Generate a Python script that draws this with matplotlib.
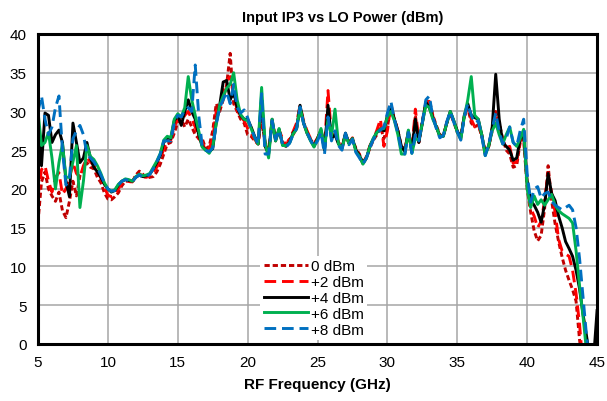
import matplotlib
matplotlib.use('Agg')
import matplotlib.pyplot as plt
import numpy as np

plt.rcParams['font.family'] = ['Liberation Sans', 'DejaVu Sans']

# RF frequency grid (GHz), 0.25 GHz steps from 5 to 45
freq = np.linspace(5, 45, 161)

# Input IP3 (dBm) at each LO drive level, one row per GHz
iip3_0dbm = [
    15.7, 20.9, 22.2, 20.0,  19.1, 18.4, 19.6, 17.2,  16.3, 18.4, 21.0, 19.1,
    21.7, 22.5, 23.4, 22.8,  22.6, 21.5, 20.8, 19.5,  18.7, 18.6, 19.0, 19.5,
    20.4, 21.0, 21.0, 20.8,  21.8, 22.3, 21.9, 21.4,  21.5, 21.6, 22.2, 23.2,
    24.5, 25.8, 26.0, 27.2,  28.6, 29.0, 28.0, 29.0,  28.0, 27.0, 26.5, 26.5,
    25.2, 25.5, 27.5, 31.0,  30.0, 31.5, 33.5, 37.5,  31.0, 30.0, 29.0, 28.5,
    27.0, 26.8, 26.2, 25.8,  29.0, 26.0, 25.0, 28.5,  26.5, 27.5, 26.0, 25.8,
    26.4, 27.0, 27.8, 30.3,  28.6, 27.4, 26.4, 25.8,  26.5, 27.4, 25.2, 30.0,
    27.0, 27.5, 26.0, 25.4,  27.0, 26.0, 26.4, 25.2,  24.5, 23.2, 24.0, 25.3,
    26.3, 27.0, 28.0, 26.5,  28.0, 30.5, 29.0, 27.5,  25.5, 25.2, 27.2, 25.0,
    29.5, 26.0, 28.8, 31.0,  31.5, 29.5, 28.2, 27.0,  26.8, 28.5, 29.8, 28.6,
    27.3, 26.8, 29.3, 30.5,  28.5, 28.0, 28.3, 26.8,  24.8, 25.5, 27.5, 30.0,
    28.5, 26.5, 25.0, 24.5,  22.8, 23.0, 26.0, 26.5,  20.0, 17.0, 14.6, 13.3,
    14.0, 17.5, 23.0, 18.5,  15.5, 13.2, 11.2, 9.5,   8.2, 7.0, 5.5, 0.5,
    -3, -3, -3, -3,  -3,
]
iip3_2dbm = [
    19.0, 22.5, 23.0, 21.0,  19.6, 21.5, 22.1, 19.3,  20.0, 21.3, 23.4, 22.0,
    21.5, 23.0, 24.0, 23.5,  23.0, 22.2, 21.4, 20.2,  19.2, 19.0, 19.3, 20.0,
    20.8, 21.2, 21.0, 20.9,  21.8, 22.0, 21.6, 21.5,  21.7, 22.2, 22.8, 23.8,
    25.2, 26.2, 26.3, 28.0,  29.0, 28.6, 29.5, 30.0,  29.0, 28.0, 26.5, 26.0,
    25.0, 25.2, 26.5, 30.0,  30.5, 32.5, 34.0, 34.5,  32.0, 30.2, 29.3, 28.8,
    27.8, 27.2, 26.4, 25.8,  30.0, 25.8, 24.8, 28.8,  26.5, 27.6, 26.5, 25.6,
    26.5, 27.4, 28.5, 30.8,  28.8, 27.5, 26.5, 25.8,  26.6, 27.5, 25.5, 32.7,
    26.8, 27.3, 26.0, 25.3,  27.0, 25.9, 26.6, 25.0,  24.4, 23.3, 24.2, 25.6,
    26.4, 27.6, 29.0, 25.5,  27.5, 31.0, 29.0, 27.5,  25.3, 25.0, 27.4, 25.0,
    30.3, 26.2, 28.6, 31.0,  31.3, 29.4, 28.0, 26.9,  26.8, 28.6, 29.8, 28.7,
    27.4, 26.6, 29.4, 30.5,  29.0, 28.0, 28.3, 27.0,  24.5, 25.5, 27.8, 29.5,
    28.2, 26.3, 25.3, 25.5,  23.3, 23.5, 26.2, 26.5,  20.5, 17.5, 16.5, 15.0,
    15.8, 18.5, 22.0, 19.5,  17.0, 13.5, 12.0, 11.6,  11.3, 9.5, 6.5, 2.5,
    -3, -3, -3, -3,  -3,
]
iip3_4dbm = [
    28.0, 23.0, 29.8, 29.5,  26.0, 27.0, 27.6, 26.0,  21.0, 19.0, 28.5, 26.0,
    23.4, 24.0, 26.0, 24.0,  22.8, 22.2, 21.5, 20.6,  20.0, 19.6, 19.8, 20.5,
    21.0, 21.2, 21.1, 21.0,  21.5, 21.8, 21.6, 21.7,  21.9, 22.6, 23.4, 24.3,
    26.0, 26.6, 26.5, 28.8,  29.5, 28.2, 30.0, 31.5,  30.0, 29.0, 27.0, 25.5,
    25.0, 24.8, 25.2, 28.5,  30.8, 33.8, 34.0, 31.5,  32.5, 30.5, 29.5, 29.0,
    29.0, 28.0, 26.8, 25.8,  31.5, 25.5, 24.5, 29.0,  26.2, 27.7, 25.7, 25.5,
    26.0, 27.2, 27.8, 30.8,  28.5, 27.2, 26.3, 25.5,  26.5, 27.6, 25.0, 30.8,
    26.5, 27.0, 25.8, 25.3,  27.2, 25.9, 26.5, 25.0,  24.3, 23.4, 24.0, 25.5,
    26.5, 27.3, 27.7, 27.5,  29.5, 30.5, 29.0, 27.5,  25.5, 24.8, 27.5, 24.8,
    29.0, 26.0, 28.5, 31.2,  30.5, 29.2, 28.0, 26.8,  26.8, 28.5, 30.0, 28.8,
    27.5, 26.5, 29.5, 31.0,  29.5, 29.2, 29.0, 27.0,  24.6, 25.5, 28.0, 34.8,
    29.0, 26.0, 25.5, 25.0,  23.7, 24.0, 26.5, 27.0,  21.0, 18.5, 17.9, 17.0,
    15.7, 18.0, 22.0, 19.4,  18.5, 16.5, 15.0, 13.2,  12.3, 11.3, 9.5, 7.1,
    3.8, 1.0, -2.0, -2.0,  4.3,
]
iip3_6dbm = [
    30.0, 25.6, 26.0, 27.3,  24.0, 20.0, 23.4, 25.8,  21.5, 21.5, 23.5, 25.6,
    17.6, 21.0, 25.6, 24.2,  23.8, 23.0, 22.0, 20.8,  20.0, 19.7, 19.9, 20.6,
    21.0, 21.3, 21.2, 21.0,  21.6, 21.9, 21.7, 21.8,  22.0, 22.8, 23.6, 24.6,
    26.3, 26.8, 26.6, 29.0,  29.7, 29.3, 30.5, 34.5,  31.5, 29.5, 27.5, 25.4,
    25.0, 24.6, 25.4, 28.5,  30.8, 32.0, 33.0, 33.5,  35.0, 31.5, 29.6, 29.0,
    28.8, 27.8, 26.6, 25.8,  33.1, 26.0, 24.0, 29.0,  26.2, 27.8, 25.6, 25.6,
    25.9, 27.1, 27.7, 30.5,  28.5, 27.2, 26.2, 25.4,  26.4, 27.8, 25.2, 29.0,
    26.8, 30.3, 25.8, 25.2,  27.0, 25.8, 26.5, 24.8,  24.2, 23.2, 24.0, 25.5,
    26.6, 27.3, 27.7, 27.8,  29.3, 30.0, 28.8, 27.0,  24.5, 24.5, 27.6, 24.6,
    26.5, 26.3, 28.5, 30.8,  30.5, 29.0, 28.0, 26.8,  26.8, 28.5, 30.0, 28.8,
    27.3, 26.4, 29.3, 31.5,  34.5, 29.5, 29.0, 27.0,  24.3, 25.6, 27.5, 28.5,
    27.0, 25.8, 27.0, 28.0,  26.0, 25.5, 26.5, 27.7,  20.0, 17.6, 19.1, 18.0,
    18.6, 17.9, 18.6, 19.3,  17.9, 17.2, 16.8, 16.5,  16.2, 15.6, 12.0, 7.5,
    3.5, -1.0, -3, -3,  -3,
]
iip3_8dbm = [
    30.0, 32.0, 29.0, 27.0,  28.0, 30.5, 32.0, 25.0,  20.5, 21.5, 26.5, 27.5,
    28.2, 27.0, 24.5, 24.0,  23.5, 22.8, 21.8, 20.8,  20.0, 19.7, 19.8, 20.5,
    21.0, 21.2, 21.1, 20.9,  21.5, 21.8, 21.5, 21.6,  21.9, 22.6, 23.5, 24.5,
    26.2, 26.2, 26.2, 28.5,  29.5, 29.3, 30.2, 30.5,  30.0, 36.0, 29.5, 25.5,
    25.0, 24.8, 25.3, 28.3,  30.5, 31.5, 32.5, 31.0,  33.5, 30.5, 29.8, 30.2,
    29.2, 27.8, 26.7, 25.8,  32.3, 24.5, 24.5, 28.8,  26.4, 27.6, 25.8, 25.4,
    25.9, 27.0, 27.8, 30.6,  28.5, 27.3, 26.3, 25.5,  26.2, 27.3, 24.5, 29.3,
    26.2, 27.5, 25.6, 25.0,  27.2, 25.7, 26.4, 24.7,  24.0, 23.2, 24.0, 25.3,
    26.4, 27.2, 27.6, 28.0,  29.8, 31.3, 29.0, 27.2,  25.0, 24.5, 27.3, 24.6,
    27.0, 26.2, 28.6, 31.5,  32.0, 29.3, 27.8, 26.6,  26.9, 28.7, 30.0, 28.6,
    27.4, 26.3, 29.3, 31.0,  29.5, 28.5, 28.8, 26.8,  24.3, 25.8, 27.8, 29.8,
    27.5, 25.8, 26.5, 28.0,  26.0, 25.5, 27.5, 29.0,  22.0, 18.3, 20.0, 20.3,
    18.8, 19.4, 19.6, 18.4,  17.9, 17.6, 17.3, 17.6,  17.9, 17.3, 15.0, 11.0,
    6.0, 1.0, -3, -3,  -3,
]

labels = ['0 dBm', '+2 dBm', '+4 dBm', '+6 dBm', '+8 dBm']

fig = plt.figure(figsize=(6.07, 4.02), dpi=100)
ax = fig.add_axes([0.0626, 0.142, 0.921, 0.771])

lw = 2.1
style = dict(lw=lw, solid_joinstyle='round', dash_joinstyle='round')
ax.plot(freq, iip3_0dbm, color='#C00000', dashes=(1.8, 1.0), label=labels[0], **style)
ax.plot(freq, iip3_2dbm, color='#FF0000', dashes=(4.0, 2.0), label=labels[1], **style)
ax.plot(freq, iip3_4dbm, color='black', label=labels[2], **style)
ax.plot(freq, iip3_6dbm, color='#00B050', label=labels[3], **style)
ax.plot(freq, iip3_8dbm, color='#0070C0', dashes=(4.0, 2.0), label=labels[4], **style)

ax.set_xlim(5, 45)
ax.set_ylim(0, 40)
ax.set_xticks(np.arange(5, 46, 5))
ax.set_yticks(np.arange(0, 41, 5))
ax.grid(True, color='#A6A6A6', lw=1.1)
ax.set_axisbelow(True)
ax.tick_params(length=0, labelsize=11, pad=8)
for s in ax.spines.values():
    s.set_linewidth(2.2)
    s.set_color('black')

ax.set_xlabel('RF Frequency (GHz)', fontsize=11, fontweight='bold', labelpad=6)
fig.text(0.565, 0.955, 'Input IP3 vs LO Power (dBm)', fontsize=10.5,
         fontweight='bold', ha='center', va='center')

leg = ax.legend(loc='upper left', bbox_to_anchor=(0.398, 0.283), fontsize=11,
                frameon=True, fancybox=False, edgecolor='none', framealpha=1,
                handlelength=2.9, handletextpad=0.2, labelspacing=0.12,
                borderpad=0.2, borderaxespad=0)

fig.savefig('out.png', dpi=100)
